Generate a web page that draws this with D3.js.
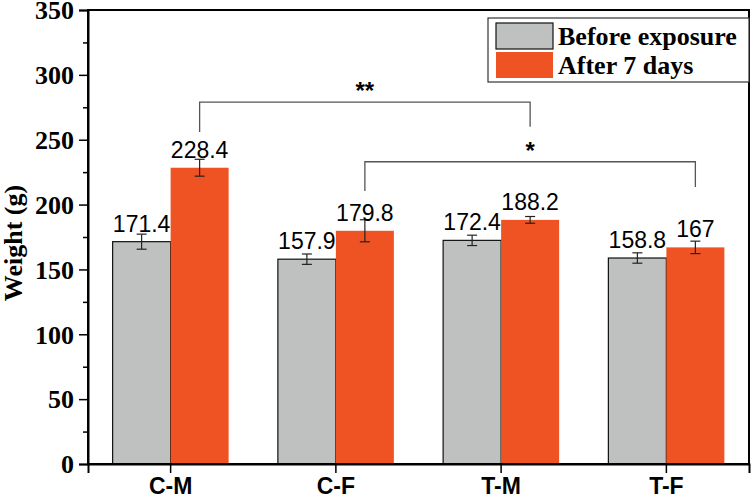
<!DOCTYPE html>
<html><head><meta charset="utf-8">
<script src="https://cdn.jsdelivr.net/npm/d3@7"></script>
<style>body{margin:0;background:#fff}svg{display:block}</style>
</head><body>
<svg id="chart" width="751" height="498"></svg>
<script>
const categories = ["C-M", "C-F", "T-M", "T-F"];
const seriesNames = ["Before exposure", "After 7 days"];
const beforeValues = [171.4, 157.9, 172.4, 158.8];
const afterValues = [228.4, 179.8, 188.2, 167];
const beforeErrors = [5.8, 4, 4, 4];
const afterErrors = [6.5, 8.5, 2.6, 4.8];
const yTicks = [0, 50, 100, 150, 200, 250, 300, 350];
const yMinorTicks = [25, 75, 125, 175, 225, 275, 325];
const brackets = [
  {from: "C-M", to: "T-M", top: 279, leftEnd: 256, rightEnd: 260, label: "**"},
  {from: "C-F", to: "T-F", top: 233, leftEnd: 210.5, rightEnd: 213.5, label: "*"}
];
const colors = ["#bfc1c1", "#ef5324"];

const svg = d3.select("#chart");
const L = 88, R = 749, T = 10, B = 464;
const x = d3.scaleBand().domain(categories).range([L, R]).paddingInner(0).paddingOuter(0);
const y = d3.scaleLinear().domain([0, 350]).range([B, T]);
const sub = d3.scaleBand().domain(seriesNames).range([-58, 58]);

const series = [
  {name: seriesNames[0], values: beforeValues, errors: beforeErrors, color: colors[0]},
  {name: seriesNames[1], values: afterValues, errors: afterErrors, color: colors[1]}
];

// bars
series.forEach((s, si) => {
  const g = svg.append("g");
  g.selectAll("rect").data(categories).join("rect")
    .attr("x", c => x(c) + x.bandwidth()/2 + sub(s.name))
    .attr("y", (c, i) => y(s.values[i]))
    .attr("width", sub.bandwidth())
    .attr("height", (c, i) => y(0) - y(s.values[i]))
    .attr("fill", s.color)
    .attr("stroke", si === 0 ? "#111" : "none")
    .attr("stroke-width", 1.2);
});
// error bars + value labels
series.forEach((s) => {
  const g = svg.append("g");
  categories.forEach((c, i) => {
    const cx = x(c) + x.bandwidth()/2 + sub(s.name) + sub.bandwidth()/2;
    const y1 = y(s.values[i] + s.errors[i]), y2 = y(s.values[i] - s.errors[i]);
    g.append("line").attr("x1", cx).attr("x2", cx).attr("y1", y1).attr("y2", y2).attr("stroke", "#222").attr("stroke-width", 1.2);
    [y1, y2].forEach(yy => g.append("line").attr("x1", cx - 5).attr("x2", cx + 5).attr("y1", yy).attr("y2", yy).attr("stroke", "#222").attr("stroke-width", 1.2));
    g.append("text").attr("x", cx).attr("y", y(s.values[i]) - 10)
      .attr("text-anchor", "middle").attr("font-family", "Liberation Sans, Arial, sans-serif")
      .attr("font-size", 23).attr("fill", "#000").text(s.values[i]);
  });
});
// significance brackets
brackets.forEach(b => {
  const x1 = x(b.from) + x.bandwidth()/2 + sub(seriesNames[1]) + sub.bandwidth()/2;
  const x2 = x(b.to) + x.bandwidth()/2 + sub(seriesNames[1]) + sub.bandwidth()/2;
  svg.append("path")
    .attr("d", `M${x1},${y(b.leftEnd)}V${y(b.top)}H${x2}V${y(b.rightEnd)}`)
    .attr("fill", "none").attr("stroke", "#555").attr("stroke-width", 1.3);
  svg.append("text").attr("x", (x1 + x2)/2).attr("y", y(b.top) - 3)
    .attr("text-anchor", "middle").attr("font-family", "Liberation Sans, Arial, sans-serif")
    .attr("font-weight", "bold").attr("font-size", 24).text(b.label);
});

// frame
svg.append("rect").attr("x", L).attr("y", T).attr("width", R - L).attr("height", B - T)
  .attr("fill", "none").attr("stroke", "#000").attr("stroke-width", 2);

// y axis
const yAxis = svg.append("g").attr("transform", `translate(${L},0)`)
  .call(d3.axisLeft(y).tickValues(yTicks).tickSize(9).tickPadding(5).tickFormat(d3.format("d")));
yAxis.select(".domain").attr("stroke-width", 2);
yAxis.selectAll(".tick line").attr("stroke-width", 1.5);
yAxis.selectAll("text").attr("font-family", "Liberation Serif, Times New Roman, serif")
  .attr("font-weight", "bold").attr("font-size", 26).attr("fill", "#000").attr("dy", "0.34em");
const yMinor = svg.append("g").attr("transform", `translate(${L},0)`)
  .call(d3.axisLeft(y).tickValues(yMinorTicks).tickSize(5).tickFormat(""));
yMinor.select(".domain").remove();
yMinor.selectAll(".tick line").attr("stroke-width", 1.5);

// x axis
const xAxis = svg.append("g").attr("transform", `translate(0,${B})`)
  .call(d3.axisBottom(x).tickSize(9).tickPadding(5));
xAxis.select(".domain").attr("stroke-width", 2);
xAxis.selectAll(".tick line").attr("stroke-width", 1.5);
xAxis.selectAll("text").attr("font-family", "Liberation Sans, Arial, sans-serif")
  .attr("font-weight", "bold").attr("font-size", 23).attr("fill", "#000");

// y title
svg.append("text").attr("transform", `translate(22,243) rotate(-90)`)
  .attr("text-anchor", "middle").attr("font-family", "Liberation Serif, Times New Roman, serif")
  .attr("font-weight", "bold").attr("font-size", 26).text("Weight (g)");

// legend
const lg = svg.append("g");
lg.append("rect").attr("x", 488).attr("y", 18).attr("width", 261).attr("height", 64)
  .attr("fill", "#fff").attr("stroke", "#333").attr("stroke-width", 1.2);
series.forEach((s, i) => {
  lg.append("rect").attr("x", 496).attr("y", 23 + i * 29).attr("width", 57).attr("height", 26)
    .attr("fill", s.color).attr("stroke", i === 0 ? "#111" : "none").attr("stroke-width", 1.2);
  lg.append("text").attr("x", 558).attr("y", 45 + i * 29)
    .attr("font-family", "Liberation Serif, Times New Roman, serif")
    .attr("font-weight", "bold").attr("font-size", 26).text(s.name);
});
</script>
</body></html>
